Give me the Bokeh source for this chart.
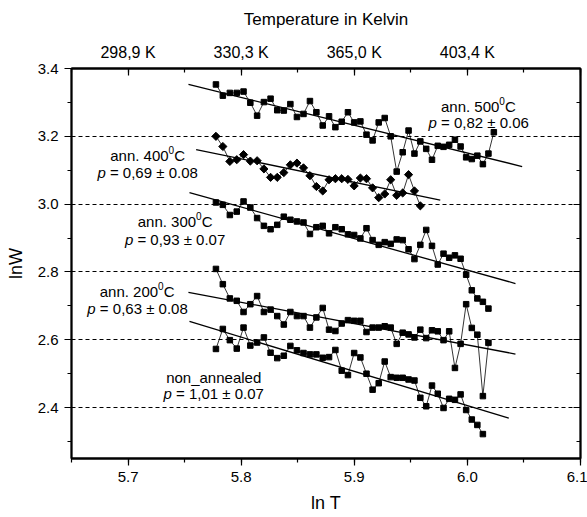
import math
from bokeh.plotting import figure
from bokeh.models import (LinearAxis, SingleIntervalTicker, Range1d, Label, Grid,
                          CustomJSTickFormatter, PrintfTickFormatter)
from bokeh.embed import file_html
from bokeh.resources import INLINE

# ---------------- data ----------------
ln_T = [5.7777, 5.7838, 5.7900, 5.7961, 5.8021, 5.8081, 5.8141, 5.8201, 5.8260, 5.8319,
        5.8377, 5.8435, 5.8493, 5.8551, 5.8608, 5.8665, 5.8721, 5.8777, 5.8833, 5.8889,
        5.8944, 5.8999, 5.9054, 5.9108, 5.9162, 5.9216, 5.9269, 5.9322, 5.9375, 5.9428,
        5.9480, 5.9532, 5.9584, 5.9636, 5.9687, 5.9738, 5.9789, 5.9839, 5.9890, 5.9940,
        5.9989, 6.0039, 6.0088, 6.0137, 6.0186, 6.0234]

lnW_500 = [3.353, 3.320, 3.328, 3.328, 3.332, 3.299, 3.261, 3.301, 3.311, 3.277,
           3.276, 3.295, 3.257, 3.266, 3.304, 3.271, 3.232, 3.259, 3.227, 3.243,
           3.271, 3.241, 3.244, 3.205, 3.188, 3.241, 3.254, 3.200, 3.096, 3.153,
           3.217, 3.149, 3.185, 3.163, 3.131, 3.172, 3.169, 3.175, 3.190, 3.170,
           3.138, 3.133, 3.143, 3.118, 3.149, 3.212]
lnW_400 = [3.200, 3.170, 3.126, 3.131, 3.146, 3.127, 3.128, 3.104, 3.079, 3.079,
           3.093, 3.116, 3.121, 3.107, 3.084, 3.052, 3.039, 3.072, 3.075, 3.075,
           3.073, 3.054, 3.077, 3.075, 3.048, 3.019, 3.030, 3.072, 3.026, 3.033,
           3.087, 3.039, 2.995]
lnW_300 = [3.005, 2.998, 2.968, 2.978, 3.008, 2.990, 2.959, 2.936, 2.926, 2.939,
           2.963, 2.954, 2.949, 2.946, 2.912, 2.932, 2.936, 2.914, 2.932, 2.926,
           2.911, 2.909, 2.899, 2.929, 2.894, 2.880, 2.888, 2.883, 2.896, 2.894,
           2.867, 2.838, 2.880, 2.924, 2.877, 2.822, 2.854, 2.842, 2.849, 2.839,
           2.792, 2.746, 2.722, 2.712, 2.692]
lnW_200 = [2.809, 2.764, 2.722, 2.715, 2.682, 2.705, 2.729, 2.682, 2.689, 2.670,
           2.645, 2.682, 2.670, 2.670, 2.636, 2.666, 2.694, 2.630, 2.626, 2.648,
           2.658, 2.656, 2.656, 2.623, 2.636, 2.636, 2.640, 2.636, 2.588, 2.621,
           2.616, 2.607, 2.630, 2.605, 2.628, 2.625, 2.599, 2.625, 2.517, 2.588,
           2.705, 2.635, 2.615, 2.434, 2.591]
lnW_non = [2.573, 2.632, 2.599, 2.574, 2.636, 2.583, 2.592, 2.607, 2.562, 2.546,
           2.553, 2.582, 2.569, 2.561, 2.557, 2.557, 2.547, 2.549, 2.570, 2.509,
           2.496, 2.561, 2.548, 2.500, 2.453, 2.472, 2.536, 2.490, 2.488, 2.488,
           2.483, 2.480, 2.429, 2.404, 2.465, 2.441, 2.399, 2.426, 2.423, 2.439,
           2.393, 2.365, 2.349, 2.322]

# linear fits (ln W = a - p ln T), endpoints
fit_x_start = [5.7534, 5.7602, 5.7543, 5.7534, 5.7543]
fit_x_end   = [6.0484, 5.9760, 6.0425, 6.0425, 6.0366]
fit_y_start = [3.353, 3.161, 3.034, 2.740, 2.654]
fit_y_end   = [3.111, 3.012, 2.766, 2.558, 2.369]

series_titles = ["ann. 500", "ann. 400", "ann. 300", "ann. 200", "non_annealed"]
p_texts = [" = 0,82 \u00b1 0.06", " = 0,69 \u00b1 0.08", " = 0,93 \u00b1 0.07",
           " = 0,63 \u00b1 0.08", " = 1,01 \u00b1 0.07"]

top_tick_lnT = [5.7, 5.8, 5.9, 6.0]
top_tick_labels = ["298,9 K", "330,3 K", "365,0 K", "403,4 K"]

# ---------------- figure ----------------
FONT = "Liberation Sans"
p = figure(width=587, height=517, x_range=Range1d(5.65, 6.1000001),
           y_range=Range1d(2.25, 3.4000001),
           x_axis_type=None, y_axis_type=None, output_backend="svg", toolbar_location=None,
           min_border_left=71, min_border_right=7, min_border_top=68, min_border_bottom=59,
           background_fill_color="white", border_fill_color="white")
p.outline_line_color = "black"
p.outline_line_width = 1.8

xt = SingleIntervalTicker(interval=0.1, num_minor_ticks=2)
yt = SingleIntervalTicker(interval=0.2, num_minor_ticks=2)

def style_axis(ax, tin, tout, size):
    ax.axis_line_width = 1.8
    ax.axis_line_color = "black"
    ax.major_tick_line_color = "black"
    ax.minor_tick_line_color = "black"
    ax.major_tick_line_width = 1.2
    ax.minor_tick_line_width = 1.2
    ax.major_tick_in = tin[0]
    ax.major_tick_out = tout[0]
    ax.minor_tick_in = tin[1]
    ax.minor_tick_out = tout[1]
    ax.major_label_text_font = FONT
    ax.major_label_text_font_size = size
    ax.major_label_text_color = "black"
    ax.axis_label_text_font = FONT
    ax.axis_label_text_font_style = "normal"
    ax.axis_label_text_color = "black"

bottom = LinearAxis(ticker=xt, formatter=PrintfTickFormatter(format="%.1f"))
style_axis(bottom, (0, 0), (7, 4), "15px")
bottom.major_label_standoff = 6
bottom.axis_label = "ln T"
bottom.axis_label_text_font_size = "18px"
bottom.axis_label_standoff = 8
p.add_layout(bottom, "below")

left = LinearAxis(ticker=yt, formatter=PrintfTickFormatter(format="%.1f"))
style_axis(left, (0, 0), (7, 4), "15px")
left.major_label_standoff = 6
left.axis_label = "lnW"
left.axis_label_text_font_size = "18px"
left.axis_label_standoff = 9
p.add_layout(left, "left")

top_fmt = CustomJSTickFormatter(args=dict(pos=top_tick_lnT, lab=top_tick_labels), code="""
for (let i = 0; i < pos.length; i++) { if (Math.abs(tick - pos[i]) < 1e-6) { return lab[i]; } }
return "";
""")
top = LinearAxis(ticker=xt, formatter=top_fmt)
style_axis(top, (7, 4), (0, 0), "16px")
top.major_label_standoff = 8
top.axis_label = "Temperature in Kelvin"
top.axis_label_text_font_size = "17px"
top.axis_label_standoff = 12
p.add_layout(top, "above")

right = LinearAxis(ticker=yt, formatter=CustomJSTickFormatter(code="return '';"))
style_axis(right, (7, 4), (0, 0), "1px")
right.major_label_standoff = 0
p.add_layout(right, "right")

p.add_layout(Grid(dimension=1, ticker=yt, grid_line_color="black", grid_line_width=1,
                  grid_line_dash="4 3"))

# ---------------- data glyphs ----------------
for ys in [lnW_500, lnW_300, lnW_200, lnW_non]:
    xs = ln_T[:len(ys)]
    p.line(xs, ys, line_color="black", line_width=0.8)
    p.scatter(xs, ys, marker="square", size=5.5, fill_color="black", line_color="black")
xs4 = ln_T[:len(lnW_400)]
p.line(xs4, lnW_400, line_color="black", line_width=0.8)
p.scatter(xs4, lnW_400, marker="square", size=5.8, angle=math.pi / 4,
          fill_color="black", line_color="black")

p.segment(x0=fit_x_start, y0=fit_y_start, x1=fit_x_end, y1=fit_y_end,
          line_color="black", line_width=1.3)

# ---------------- texts inside the frame ----------------
CW = {'a': .556, 'n': .556, '.': .278, ' ': .278, 'C': .722, 'p': .556, '=': .584,
      ',': .278, '\u00b1': .549, 'o': .556, '_': .556, 'e': .556, 'l': .222, 'd': .556,
      'W': .944, 'T': .611}

def tw(s, size):
    return sum(CW.get(c, 0.556) for c in s) * size

def rich(x, y, parts):
    total = sum(tw(t, sz) for t, sz, st, dy in parts)
    off = -total / 2
    for t, sz, st, dy in parts:
        s = t.lstrip(" ")
        lead = tw(t[:len(t) - len(s)], sz)
        p.add_layout(Label(x=x, y=y, x_offset=off + lead, y_offset=dy, text=s,
                           text_font=FONT, text_font_size=f"{sz}px", text_font_style=st,
                           text_align="left", text_baseline="alphabetic", text_color="black"))
        off += tw(t, sz)

# label anchor positions (centre x, baseline y) in data units
title_pos = [(6.0097, 3.2888), (5.7173, 3.1429), (5.7416, 2.9497), (5.7080, 2.7435), (5.7757, 2.4891)]
pval_pos = [(6.0100, 3.2396), (5.7173, 3.0935), (5.7416, 2.8964), (5.7084, 2.6923), (5.7757, 2.4417)]

for i in range(5):
    tx, ty = title_pos[i]
    if i < 4:
        rich(tx, ty, [(series_titles[i], 15, "normal", 0), ("0", 10, "normal", 5.5),
                      ("C", 15, "normal", 0)])
    else:
        rich(tx, ty, [(series_titles[i], 15, "normal", 0)])
    px_, py_ = pval_pos[i]
    rich(px_, py_, [("p", 15, "italic", 0), (p_texts[i], 15, "normal", 0)])

open("out.html", "w").write(file_html(p, INLINE))
